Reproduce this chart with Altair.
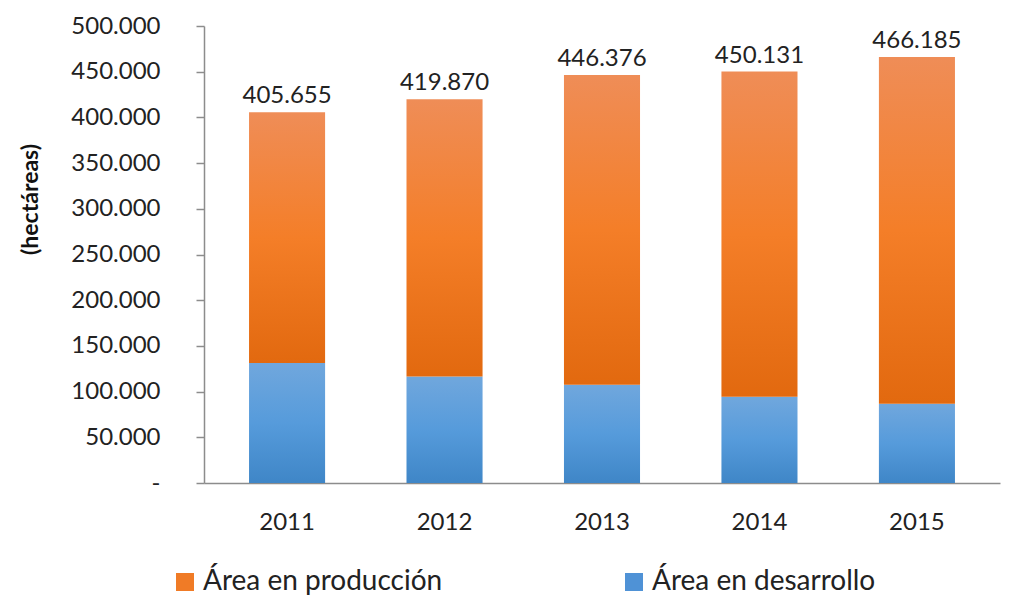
import altair as alt
import pandas as pd

years = ["2011", "2012", "2013", "2014", "2015"]
total = [405655, 419870, 446376, 450131, 466185]
desarrollo = [131200, 116600, 107500, 94400, 86700]
series = ["Área en producción", "Área en desarrollo"]
colors = ["#F07B26", "#4F92D6"]

df = pd.DataFrame({"year": years, "total": total, "desarrollo": desarrollo})
leg_df = pd.DataFrame({"serie": series, "year": [years[0], years[0]], "v": [0, 0]})

FONT = "Lato"
fmt = "replace(format(datum.total, ',.0f'), regexp(',', 'g'), '.')"

x = alt.X("year:N", title=None,
          scale=alt.Scale(paddingInner=0.517, paddingOuter=0.286),
          axis=alt.Axis(labelAngle=0, ticks=False, labelPadding=27, labelFontSize=24,
                        labelFont=FONT, labelColor="#222222", domainColor="#8C8C8C",
                        domainWidth=1.5))
yscale = alt.Scale(domain=[0, 500000], nice=False)

orange_grad = alt.Gradient(gradient="linear", x1=0, x2=0, y1=0, y2=1, stops=[
    alt.GradientStop(color="#EF8D57", offset=0),
    alt.GradientStop(color="#F47E28", offset=0.5),
    alt.GradientStop(color="#E2690F", offset=1)])
blue_grad = alt.Gradient(gradient="linear", x1=0, x2=0, y1=0, y2=1, stops=[
    alt.GradientStop(color="#70A7DD", offset=0),
    alt.GradientStop(color="#569BDB", offset=0.5),
    alt.GradientStop(color="#3F86C7", offset=1)])

base = alt.Chart(df)

blue = base.mark_bar(color=blue_grad).encode(
    x=x,
    y=alt.Y("desarrollo:Q", scale=yscale, title="(hectáreas)",
            axis=alt.Axis(values=list(range(0, 500001, 50000)), grid=False,
                          labelExpr="datum.value == 0 ? '-' : replace(format(datum.value, ',.0f'), regexp(',', 'g'), '.')",
                          labelFont=FONT, labelFontSize=24, labelColor="#222222",
                          labelPadding=36, tickSize=8, tickColor="#8C8C8C",
                          domainColor="#8C8C8C", domainWidth=1.5, tickWidth=1.5,
                          titleFont=FONT, titleFontSize=23, titleFontWeight="bold",
                          titleColor="#111111", titleAngle=-90, titleAlign="center",
                          titleBaseline="middle", titleX=-174, titleY=173)),
)

orange = base.mark_bar(color=orange_grad).encode(
    x=x,
    y=alt.Y("desarrollo:Q", scale=yscale),
    y2="total:Q",
)

labels = base.transform_calculate(lbl=fmt).mark_text(
    font=FONT, fontSize=24, color="#222222", baseline="bottom", dy=-4
).encode(x=x, y=alt.Y("total:Q", scale=yscale), text="lbl:N")

legend = alt.Chart(leg_df).mark_square(opacity=0).encode(
    x=x,
    y=alt.Y("v:Q", scale=yscale),
    color=alt.Color("serie:N", sort=series,
                    scale=alt.Scale(domain=series, range=colors),
                    legend=alt.Legend(title=None, orient="none", direction="horizontal",
                                      legendX=-33, legendY=542, columns=2,
                                      columnPadding=177, symbolType="square",
                                      symbolSize=324, symbolOpacity=1,
                                      symbolStrokeWidth=0, labelFont=FONT,
                                      labelFontSize=28, labelColor="#222222",
                                      labelOffset=4, labelLimit=500)),
)

chart = alt.layer(blue, orange, labels, legend).properties(
    width=796, height=457,
    background="white",
    autosize=alt.AutoSizeParams(type="none"),
    padding={"left": 196, "top": 18, "right": 5, "bottom": 112},
).configure_view(strokeWidth=0, stroke="transparent")

chart.save("out.html", embed_options={"renderer": "svg", "actions": False})
